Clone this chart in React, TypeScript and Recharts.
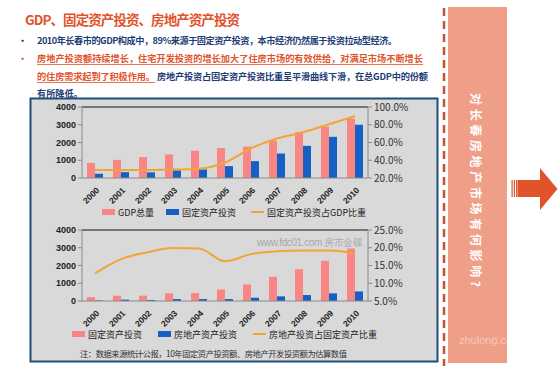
import React from 'react';
import { ComposedChart, Bar, Line, XAxis, YAxis, ReferenceLine } from 'recharts';

const years = ['2000', '2001', '2002', '2003', '2004', '2005', '2006', '2007', '2008', '2009', '2010'];

// chart 1: GDP vs fixed asset investment
const gdpTotal = [850, 1020, 1180, 1330, 1540, 1690, 1770, 2110, 2580, 2900, 3340];
const fixedInvest = [240, 330, 320, 430, 480, 670, 950, 1380, 1810, 2320, 3000];
const fixedShareOfGdp = [29.0, 29.0, 29.0, 29.5, 30.5, 37.5, 53.5, 64.5, 71.5, 80.5, 89.5];

// chart 2: fixed asset investment vs real estate investment
const fixedInvest2 = [220, 300, 300, 430, 450, 650, 930, 1360, 1790, 2270, 2960];
const realEstateInvest = [30, 75, 55, 110, 110, 110, 185, 260, 335, 430, 540];
const realEstateShare = [12.8, 16.8, 18.7, 19.9, 19.8, 16.2, 18.2, 19.0, 19.2, 19.2, 18.4];

const leftTicks = [0, 1000, 2000, 3000, 4000];
const rightTicks1 = [20, 40, 60, 80, 100];
const rightTicks2 = [5, 10, 15, 20, 25];

const PINK = '#F98585';
const BLUE = '#1460C4';
const ORANGE = '#F2A435';
const RED = '#E1532A';
const NAVY = '#1D3D78';
const CJK = '"Noto Sans CJK SC", sans-serif';
const NUM = '"Liberation Sans", Arial, sans-serif';

const data1 = years.map((y, i) => ({ year: y, gdp: gdpTotal[i], fai: fixedInvest[i], ratio: fixedShareOfGdp[i] }));
const data2 = years.map((y, i) => ({ year: y, fai: fixedInvest2[i], re: realEstateInvest[i], ratio: realEstateShare[i] }));

function XTick({ x, y, payload }: any) {
  return (
    <g transform={`translate(${x + 2},${y + 2})`}>
      <text textAnchor="end" dy={4} fontSize={8.5} fontWeight="bold" fontFamily={NUM} fill="#222" transform="rotate(-45)">
        {payload.value}
      </text>
    </g>
  );
}

const leftTick = { fontSize: 9, fontWeight: 'bold' as const, fontFamily: NUM, fill: '#222' };
const rightTick = { fontSize: 10, fontFamily: CJK, fill: '#333' };
const pct = (v: number) => `${v.toFixed(1)}%`;

function Chart({ data, k1, k2, domainR, ticksR, top }: any) {
  return (
    <div style={{ position: 'absolute', left: 30, top, width: 405, height: 110 }}>
      <ComposedChart width={405} height={110} data={data} margin={{ top: 9, right: 10, left: 0, bottom: 0 }} barGap={0}>
        <XAxis dataKey="year" height={30} interval={0} tick={(p: any) => <XTick {...p} />} tickLine={false} axisLine={{ stroke: '#8a8a8a' }} />
        <YAxis yAxisId="l" width={52} domain={[0, 4000]} ticks={leftTicks} tick={leftTick} tickSize={4} axisLine={{ stroke: '#8a8a8a' }} tickLine={{ stroke: '#8a8a8a' }} />
        <YAxis yAxisId="r" orientation="right" width={57} domain={domainR} ticks={ticksR} tickFormatter={pct} tick={rightTick} tickSize={4} axisLine={{ stroke: '#8a8a8a' }} tickLine={{ stroke: '#8a8a8a' }} />
        <ReferenceLine yAxisId="l" y={4000} stroke="#555" strokeWidth={1.5} />
        <Bar yAxisId="l" dataKey={k1} fill={PINK} barSize={8} isAnimationActive={false} />
        <Bar yAxisId="l" dataKey={k2} fill={BLUE} barSize={8} isAnimationActive={false} />
        <Line yAxisId="r" type="monotone" dataKey="ratio" stroke={ORANGE} strokeWidth={2} dot={false} isAnimationActive={false} />
      </ComposedChart>
    </div>
  );
}

function LegendItem({ x, y, kind, color, label }: any) {
  return (
    <g>
      {kind === 'line'
        ? <line x1={x} x2={x + 13} y1={y} y2={y} stroke={color} strokeWidth={2} />
        : <rect x={x} y={y - 3} width={13} height={6} fill={color} />}
      <text x={x + 16} y={y + 3.5} fontSize={9} fontFamily={CJK} fill="#222">{label}</text>
    </g>
  );
}

export default function App() {
  return (
    <div style={{ position: 'absolute', left: 0, top: 0, width: 560, height: 370, background: '#fff', overflow: 'hidden' }}>
      <svg width={560} height={370} style={{ position: 'absolute', left: 0, top: 0 }}>
        <text x={25} y={25} fontSize={13.5} fontWeight="bold" fontFamily={CJK} fill={RED} textLength={215}>
          GDP、固定资产投资、房地产资产投资
        </text>

        <g fontFamily={CJK} fontWeight="bold" fontSize={9.2}>
          <text x={18} y={44} fill={NAVY}>•</text>
          <text x={37} y={44} fill={NAVY} textLength={360}>2010年长春市的GDP构成中，89%来源于固定资产投资，本市经济仍然属于投资拉动型经济。</text>
          <text x={18} y={62} fill={RED}>•</text>
          <text x={37} y={62} fill={RED} textLength={386}>房地产投资额持续增长，住宅开发投资的增长加大了住房市场的有效供给，对满足市场不断增长</text>
          <line x1={37} x2={423} y1={64.5} y2={64.5} stroke={RED} strokeWidth={0.8} />
          <text x={37} y={80} fill={RED} textLength={118}>的住房需求起到了积极作用。</text>
          <line x1={37} x2={155} y1={82.5} y2={82.5} stroke={RED} strokeWidth={0.8} />
          <text x={157} y={80} fill={NAVY} textLength={271}>房地产投资占固定资产投资比重呈平滑曲线下滑，在总GDP中的份额</text>
          <text x={37} y={97} fill={NAVY}>有所降低。</text>
        </g>

        <rect x={30.5} y={98.5} width={407} height={263} fill="#D9D9D9" stroke="#1F4E79" strokeWidth={2} />

        <LegendItem x={102} y={212} color={PINK} label="GDP总量" />
        <LegendItem x={166} y={212} color={BLUE} label="固定资产投资" />
        <LegendItem x={251} y={212} kind="line" color={ORANGE} label="固定资产投资占GDP比重" />

        <text x={257} y={246} fontSize={10} fontFamily={NUM} fill="#A9A9A9" textLength={106}>www.fdc01.com 房市金碟</text>

        <LegendItem x={72} y={334} color={PINK} label="固定资产投资" />
        <LegendItem x={158} y={334} color={BLUE} label="房地产资产投资" />
        <LegendItem x={253} y={334} kind="line" color={ORANGE} label="房地产投资占固定资产比重" />

        <text x={80} y={357} fontSize={8.3} fontFamily={CJK} fill="#333" textLength={267}>
          注：数据来源统计公报，10年固定资产投资额、房地产开发投资额为估算数值
        </text>

        <line x1={444} x2={444} y1={8} y2={366} stroke="#C9502F" strokeWidth={2.5} strokeDasharray="8 5" />
        <rect x={448} y={7} width={59} height={356} fill="#EF9E88" />
        <text transform="translate(471,93) rotate(90)" fontSize={12} fontWeight="bold" fontFamily={CJK} fill="#fff" textLength={194}>
          对长春房地产市场有何影响?
        </text>
        <text x={459} y={344} fontSize={11} fontFamily={NUM} fill="#fff" fillOpacity={0.45}>zhulong.com</text>

        <rect x={511.5} y={180} width={1.2} height={17} fill={RED} />
        <rect x={513.8} y={180} width={1.2} height={17} fill={RED} />
        <rect x={516} y={180} width={1.2} height={17} fill={RED} />
        <polygon points="517.5,180 540,180 540,168 557.5,189 540,210 540,197 517.5,197" fill={RED} />
      </svg>

      <Chart data={data1} k1="gdp" k2="fai" domainR={[20, 100]} ticksR={rightTicks1} top={98} />
      <Chart data={data2} k1="fai" k2="re" domainR={[5, 25]} ticksR={rightTicks2} top={221} />
    </div>
  );
}
